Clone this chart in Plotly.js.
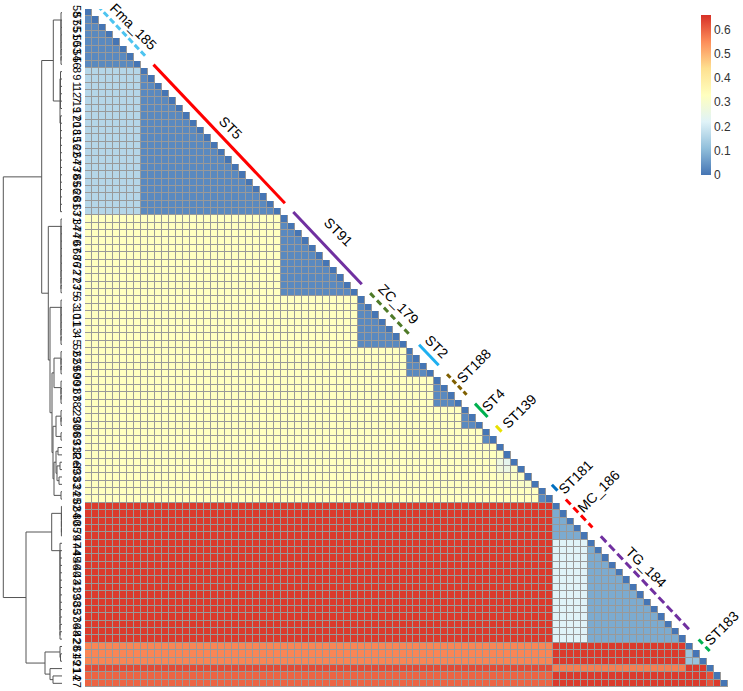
<!DOCTYPE html>
<html><head><meta charset="utf-8">
<script src="https://cdn.plot.ly/plotly-3.0.1.min.js"></script>
<style>html,body{margin:0;padding:0;background:#fff}</style>
</head><body><div id="chart" style="width:743px;height:691px"></div>
<script>
// ---------- DATA ----------
const rowLabels = ['58','57','55','51','50','53','54','56',
 '8','9','1','12','7','19','17','20','18','15','16','22','64','73','78','65','66','26','81','63',
 '71','34','74','70','67','68','76','72','77','23','75',
 '6','3','10','11','13','4','5',
 '52','62','59','60',
 '90','91','87','88',
 '2','29','30',
 '86','89',
 '31','32','Ref','69','33','83',
 '24','25',
 '82','84','80','85','79',
 '47','44','45','46','40','43','41','39','38','35','37','36','48','42',
 '28','61','49',
 '21','14','27'];

// value blocks (segments of consecutive rows)
const segStart = [0,8,28,39,46,50,54,57,59,60,61,62,63,64,65,67,72,86,89,90,91];
const segEnd   = [7,27,38,45,49,53,56,58,59,60,61,62,63,64,66,71,85,88,89,90,91];
const segWithin = [0.03,0.03,0.03,0.03,0.03,0.03,0.03,0.03,0,0,0,0,0,0,0.03,0.08,0.08,0.12,0,0,0];
const segBetween = [
 [],
 [0.16],
 [0.33,0.33],
 [0.33,0.33,0.33],
 [0.33,0.33,0.33,0.33],
 [0.33,0.33,0.33,0.33,0.33],
 [0.33,0.33,0.33,0.33,0.33,0.33],
 [0.33,0.33,0.33,0.33,0.33,0.33,0.33],
 [0.33,0.33,0.33,0.33,0.33,0.33,0.33,0.33],
 [0.33,0.33,0.33,0.33,0.33,0.33,0.33,0.33,0.32],
 [0.33,0.33,0.33,0.33,0.33,0.33,0.33,0.33,0.27,0.24],
 [0.33,0.33,0.33,0.33,0.33,0.33,0.33,0.33,0.28,0.26,0.31],
 [0.33,0.33,0.33,0.33,0.33,0.33,0.33,0.33,0.32,0.32,0.32,0.32],
 [0.33,0.33,0.33,0.33,0.33,0.33,0.33,0.33,0.32,0.32,0.32,0.32,0.31],
 [0.33,0.33,0.33,0.33,0.33,0.33,0.33,0.33,0.33,0.33,0.33,0.33,0.33,0.33],
 [0.65,0.65,0.65,0.65,0.65,0.65,0.65,0.65,0.65,0.65,0.65,0.65,0.65,0.65,0.65],
 [0.65,0.65,0.65,0.65,0.65,0.65,0.65,0.65,0.65,0.65,0.65,0.65,0.65,0.65,0.65,0.22],
 [0.56,0.56,0.56,0.56,0.56,0.56,0.56,0.56,0.56,0.56,0.56,0.56,0.56,0.56,0.56,0.65,0.65],
 [0.63,0.63,0.63,0.63,0.63,0.63,0.63,0.63,0.63,0.63,0.63,0.63,0.63,0.63,0.63,0.57,0.57,0.65],
 [0.60,0.60,0.60,0.60,0.60,0.60,0.60,0.60,0.60,0.60,0.60,0.60,0.60,0.60,0.60,0.65,0.65,0.65,0.62],
 [0.60,0.60,0.60,0.60,0.60,0.60,0.60,0.60,0.60,0.60,0.60,0.60,0.60,0.60,0.60,0.65,0.65,0.65,0.62,0.65]
];

// annotated groups
const groupNames = ['Fma_185','ST5','ST91','ZC_179','ST2','ST188','ST4','ST139','ST181','MC_186','TG_184','ST183'];
const groupStart = [0,8,28,39,46,50,54,57,65,67,72,86];
const groupEnd   = [7,27,38,45,49,53,56,58,66,71,85,88];

// colorbar ticks
const cbTickVals = [0,0.1,0.2,0.3,0.4,0.5,0.6];
const cbTickText = ['0','0.1','0.2','0.3','0.4','0.5','0.6'];
const zMax = 0.662;

// ---------- STYLE / LAYOUT ----------
const groupStyle = [
 {color:'#4dc4f0', dash:'6px,3px', angle:45,  dx:3.0, dy:-1.6},
 {color:'#ff0000', dash:'solid',   angle:45,  dx:2.9, dy:-1.9},
 {color:'#7030a0', dash:'solid',   angle:45,  dx:2.8, dy:-3.3},
 {color:'#4f7a28', dash:'6px,4px', angle:45,  dx:2.4, dy:-2.5},
 {color:'#1fb0f0', dash:'solid',   angle:45,  dx:2.4, dy:-2.2},
 {color:'#7f5f00', dash:'5px,3px', angle:-45, dx:3.6, dy:-3.6},
 {color:'#00b050', dash:'solid',   angle:-45, dx:2.9, dy:-2.5},
 {color:'#e8e000', dash:'solid',   angle:-45, dx:4.2, dy:-3.4},
 {color:'#0070c0', dash:'solid',   angle:-45, dx:4.2, dy:-2.5},
 {color:'#ff0000', dash:'7px,4px', angle:-45, dx:4.0, dy:-4.1},
 {color:'#7030a0', dash:'8px,4px', angle:45,  dx:1.3, dy:-3.3},
 {color:'#00b050', dash:'6px,4px', angle:-45, dx:3.6, dy:-3.5}
];
const lineStartOff = 1.3, lineEndOff = 1.1, lineDiagOff = 2.25;

// ---------- BUILD MATRIX ----------
const n = rowLabels.length;
const idx = rowLabels.map((_, i) => i);
function segOf(i){ for (let s = 0; s < segStart.length; s++) if (i >= segStart[s] && i <= segEnd[s]) return s; return -1; }
const z = [], zBg = [];
for (let r = 0; r < n; r++) {
  const row = [], bg = [];
  const sr = segOf(r);
  for (let c = 0; c < n; c++) {
    if (c > r) { row.push(null); bg.push(null); continue; }
    bg.push(1);
    if (c === r) { row.push(0); continue; }
    const sc = segOf(c);
    row.push(sr === sc ? segWithin[sr] : segBetween[sr][sc]);
  }
  z.push(row); zBg.push(bg);
}

// ---------- DENDROGRAM (heights in plot units, leaves are row indices) ----------
function chain(s, e, h) { if (s === e) return s; return [h, s, chain(s + 1, e, h)]; }
const tree =
 [58.7,
   [20.3,
     [8.7, chain(0,7,1.0), [2.0, chain(8,13,1.5), chain(14,27,1.5)]],
     [13.7, chain(28,38,1.0),
       [12.0, chain(39,45,1.0),
         [10.0, [8.0, chain(46,49,1.0), chain(50,53,1.0)],
           [9.0, [6.0, chain(54,56,1.0), chain(57,58,1.0)],
             [8.0, [6.0, [4.0, 59, 60], [5.0, [2.0, 61, 62], [3.0, 63, 64]]], chain(65,66,1.0)]]]]]],
   [36.0,
     [10.3, chain(67,71,0.6), chain(72,85,2.0)],
     [17.0, [2.0, 86, [1.5, 87, 88]], [12.0, 89, [9.0, 90, 91]]]]];
const dx = [], dy = [];
function walk(node) {
  if (typeof node === 'number') return {y: node, h: 0};
  const h = node[0], l = walk(node[1]), r = walk(node[2]);
  dx.push(l.h, h, h, r.h, null); dy.push(l.y, l.y, r.y, r.y, null);
  return {y: (l.y + r.y) / 2, h: h};
}
walk(tree);

// ---------- TRACES ----------
const colorscale = [[0,'#4575B4'],[1/6,'#91BFDB'],[2/6,'#E0F3F8'],[3/6,'#FFFFBF'],[4/6,'#FEE090'],[5/6,'#FC8D59'],[1,'#D73027']];
const traces = [
  {type:'heatmap', x: idx, y: idx, z: zBg, colorscale:[[0,'#999999'],[1,'#999999']], zmin:0, zmax:1,
   showscale:false, hoverinfo:'skip', xaxis:'x', yaxis:'y'},
  {type:'heatmap', x: idx, y: idx, z: z, colorscale: colorscale, zmin:0, zmax: zMax,
   xgap:1, ygap:1, hoverinfo:'skip', xaxis:'x', yaxis:'y',
   colorbar:{x:701/743, xref:'container', xanchor:'left', xpad:0,
     y:1-15/691, yref:'container', yanchor:'top', ypad:0,
     len:160, lenmode:'pixels', thickness:10, outlinewidth:0,
     tickmode:'array', tickvals: cbTickVals, ticktext: cbTickText, ticks:'',
     tickfont:{family:'Liberation Sans, Arial, sans-serif', size:12, color:'#333'}}},
  {type:'scatter', mode:'lines', x: dx, y: dy, xaxis:'x2', yaxis:'y',
   line:{color:'#555555', width:1}, hoverinfo:'skip', showlegend:false, cliponaxis:false}
];
const annotations = [];
groupNames.forEach((g, i) => {
  const s = groupStart[i], e = groupEnd[i], st = groupStyle[i];
  traces.push({type:'scatter', mode:'lines', xaxis:'x', yaxis:'y', cliponaxis:false, showlegend:false, hoverinfo:'skip',
    x:[s + lineStartOff, e + lineEndOff], y:[s + lineStartOff - lineDiagOff, e + lineEndOff - lineDiagOff],
    line:{color: st.color, width:3, dash: st.dash}});
  const m = (s + e) / 2;
  annotations.push({x: m + st.dx, y: m + st.dy, xref:'x', yref:'y', text: g, showarrow:false,
    textangle: st.angle, font:{family:'Liberation Sans, Arial, sans-serif', size:14, color:'#000'}});
});

const layout = {
  width:743, height:691, margin:{l:0, r:0, t:9, b:4, autoexpand:false}, paper_bgcolor:'#fff', plot_bgcolor:'rgba(0,0,0,0)',
  showlegend:false,
  xaxis:{domain:[85/743, 728/743], range:[-0.5, n - 0.5], showticklabels:false, showgrid:false, zeroline:false, ticks:'', showline:false},
  xaxis2:{domain:[0, 62/743], range:[62, 0], visible:false, anchor:'y'},
  yaxis:{range:[n - 0.5, -0.5], anchor:'x', tickmode:'array', tickvals: idx, ticktext: rowLabels, tickangle:90,
    ticks:'', showgrid:false, zeroline:false, showline:false, automargin:false,
    tickfont:{family:'Liberation Sans, Arial, sans-serif', size:11, color:'#000'}},
  annotations: annotations
};
Plotly.newPlot('chart', traces, layout, {displayModeBar:false, staticPlot:true});
</script></body></html>
